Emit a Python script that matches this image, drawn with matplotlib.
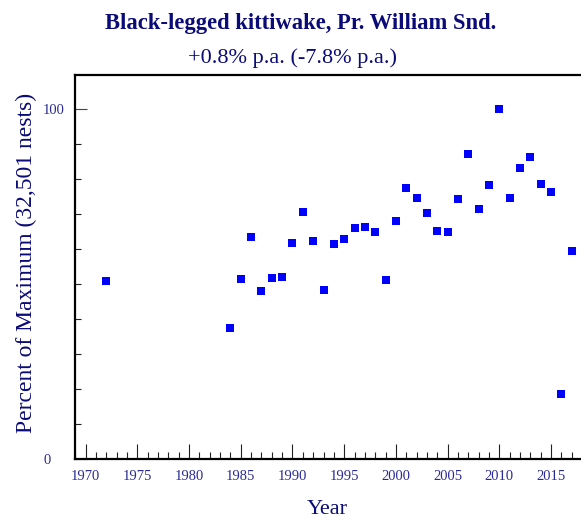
import matplotlib
matplotlib.use("Agg")
import matplotlib.pyplot as plt
from matplotlib.ticker import MultipleLocator, FixedLocator

years = [1972, 1984, 1985, 1986, 1987, 1988, 1989, 1990, 1991, 1992, 1993, 1994,
         1995, 1996, 1997, 1998, 1999, 2000, 2001, 2002, 2003, 2004, 2005, 2006,
         2007, 2008, 2009, 2010, 2011, 2012, 2013, 2014, 2015, 2016, 2017]
pct_max = [50.9, 37.5, 51.4, 63.5, 48.1, 51.7, 52.1, 61.6, 70.5, 62.3, 48.3, 61.5,
           62.9, 66.0, 66.3, 64.9, 51.1, 67.9, 77.4, 74.6, 70.2, 65.1, 64.8, 74.2,
           87.1, 71.4, 78.3, 100.0, 74.7, 83.1, 86.3, 78.5, 76.2, 18.5, 59.3]
xtick_years = [1970, 1975, 1980, 1985, 1990, 1995, 2000, 2005, 2010, 2015]
ytick_vals = [0, 100]

title = "Black-legged kittiwake, Pr. William Snd."
subtitle = "+0.8% p.a. (-7.8% p.a.)"
xlabel = "Year"
ylabel = "Percent of Maximum (32,501 nests)"

plt.rcParams['font.family'] = ['Liberation Serif', 'DejaVu Serif']

W, H = 581, 523
fig = plt.figure(figsize=(W / 100, H / 100), dpi=100)

left_px, right_px, top_px, bottom_px = 75, 581, 75, 459
ax = fig.add_axes([left_px / W, 1 - bottom_px / H,
                   (right_px - left_px) / W, (bottom_px - top_px) / H])

ax.plot(years, pct_max, linestyle='none', marker='s', markersize=6.3,
        color='#0000ff', markeredgewidth=0)

ax.set_xlim(1968.97, 2017.9)
ax.set_ylim(0, 109.7)

navy = '#2a2a96'
ax.xaxis.set_major_locator(FixedLocator(xtick_years))
ax.xaxis.set_minor_locator(MultipleLocator(1))
ax.yaxis.set_major_locator(FixedLocator(ytick_vals))
ax.yaxis.set_minor_locator(MultipleLocator(10))

ax.tick_params(axis='x', which='major', direction='in', length=11, width=0.8,
               color='#222222', labelsize=10.5, labelcolor=navy, pad=8)
ax.tick_params(axis='x', which='minor', direction='in', length=5.4, width=0.8,
               color='#222222')
ax.tick_params(axis='y', which='major', direction='in', length=8.6, width=0.8,
               color='#444444', labelsize=10.5, labelcolor=navy, pad=23)
ax.tick_params(axis='y', which='minor', direction='in', length=4.3, width=0.8,
               color='#222222')
for lbl in ax.get_yticklabels():
    lbl.set_horizontalalignment('left')

for s in ['left', 'bottom', 'top']:
    ax.spines[s].set_linewidth(1.6)
    ax.spines[s].set_color('black')
ax.spines['right'].set_visible(False)

fig.text(301 / W, 1 - 29 / H, title, ha='center', va='baseline',
         fontsize=16.3, fontweight='bold', color='#0a0a78')
fig.text(293 / W, 1 - 63 / H, subtitle, ha='center', va='baseline',
         fontsize=16, color='#0a0a78')
fig.text(327 / W, 1 - 510 / H, xlabel, ha='center', va='center',
         fontsize=16, color='#0a0a78')
fig.text(26 / W, 1 - 263 / H, ylabel, ha='center', va='center',
         rotation=90, fontsize=17, color='#0a0a78')

fig.savefig('out.png', dpi=100)
